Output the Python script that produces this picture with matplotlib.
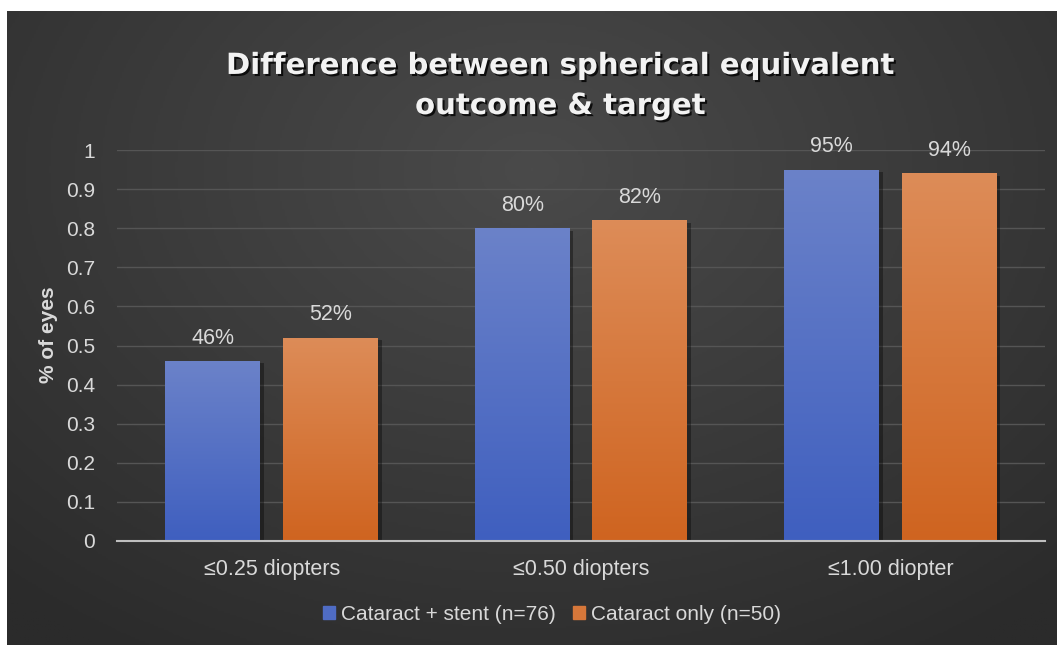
import numpy as np
import matplotlib.pyplot as plt
import matplotlib.patheffects as pe
from matplotlib.patches import Rectangle
from matplotlib.colors import LinearSegmentedColormap

# data
categories = ['≤0.25 diopters', '≤0.50 diopters', '≤1.00 diopter']
stent = [0.46, 0.80, 0.95]
only = [0.52, 0.82, 0.94]
series_names = ['Cataract + stent (n=76)', 'Cataract only (n=50)']
yticks = [0, 0.1, 0.2, 0.3, 0.4, 0.5, 0.6, 0.7, 0.8, 0.9, 1]

W, H = 1057, 645
fig = plt.figure(figsize=(W / 100, H / 100), dpi=100)
fig.patch.set_facecolor('white')
plt.rcParams['font.family'] = ['Liberation Sans', 'DejaVu Sans']

# dark radial background
bg = fig.add_axes([7 / W, 0, 1 - 7 / W, 1 - 11 / H])
bg.set_axis_off()
yy, xx = np.mgrid[0:1:300j, 0:1:500j]
r = np.sqrt(((xx - 0.5) * 1.2) ** 2 + (yy - 0.75) ** 2)
bg_cmap = LinearSegmentedColormap.from_list('bg', ['#4a4a4a', '#2b2b2b'])
bg.imshow(r, cmap=bg_cmap, aspect='auto', extent=[0, 1, 0, 1], origin='lower',
          vmin=0, vmax=0.9)
bg.set_xlim(0, 1)
bg.set_ylim(0, 1)

ax = fig.add_axes([117 / W, (H - 541) / H, (1045 - 117) / W, (541 - 150) / H])
ax.patch.set_alpha(0)

x = np.arange(len(categories))
width = 0.307
off = 0.19

blue_cmap = LinearSegmentedColormap.from_list('b', ['#3f5fbf', '#6b82c9'])
orange_cmap = LinearSegmentedColormap.from_list('o', ['#cf6420', '#dd8c58'])


def gradient_bars(xs, vals, cmap):
    bars = ax.bar(xs, vals, width, color='none', edgecolor='none', zorder=3)
    grad = np.linspace(0, 1, 256).reshape(-1, 1)
    for b in bars:
        bx, by = b.get_x(), b.get_y()
        bw, bh = b.get_width(), b.get_height()
        # soft shadow to the right
        ax.add_patch(Rectangle((bx + 0.012, by), bw, bh - 0.006, color='black',
                               alpha=0.35, zorder=2, lw=0))
        im = ax.imshow(grad, cmap=cmap, aspect='auto', origin='lower',
                       extent=[bx, bx + bw, by, by + bh], zorder=3)
        im.set_clip_path(b)
    return bars


gradient_bars(x - off, stent, blue_cmap)
gradient_bars(x + off, only, orange_cmap)

for xs, vals in [(x - off, stent), (x + off, only)]:
    for xi, v in zip(xs, vals):
        ax.annotate(f'{round(v * 100)}%', (xi, v), xytext=(0, 9),
                    textcoords='offset points', ha='center', va='bottom',
                    fontsize=15.5, color='#d9d9d9', annotation_clip=False)

ax.set_xlim(-0.5, len(categories) - 0.5)
ax.set_ylim(0, 1)
ax.set_yticks(yticks)
ax.set_yticklabels([f'{t:g}' for t in yticks])
ax.set_xticks(x)
ax.set_xticklabels(categories)
ax.tick_params(axis='y', length=0, labelsize=15, colors='#d9d9d9', pad=16)
ax.tick_params(axis='x', length=0, labelsize=15.5, colors='#d9d9d9', pad=13)
ax.grid(axis='y', color='#555555', lw=1, zorder=0)
ax.set_axisbelow(True)
for s in ['top', 'right', 'left']:
    ax.spines[s].set_visible(False)
ax.spines['bottom'].set_color('#bfbfbf')
ax.spines['bottom'].set_linewidth(1.5)
ax.spines['bottom'].set_zorder(4)

ax.set_ylabel('% of eyes', fontsize=15, fontweight='bold', color='#d9d9d9')
ax.yaxis.set_label_coords(-0.064, 0.527)

fig.text(560 / W, (H - 86) / H,
         'Difference between spherical equivalent\noutcome & target',
         ha='center', va='center', fontsize=21, fontweight='bold',
         family='DejaVu Sans', color='#f2f2f2', linespacing=1.55,
         path_effects=[pe.withSimplePatchShadow(offset=(1.5, -1.5),
                                                shadow_rgbFace='black', alpha=0.8)])

handles = [Rectangle((0, 0), 1, 1, color='#4f6cc4'),
           Rectangle((0, 0), 1, 1, color='#d6773a')]
fig.legend(handles, series_names, loc='center', bbox_to_anchor=(552 / W, (H - 614) / H),
           ncol=2, frameon=False, fontsize=15, labelcolor='#d9d9d9',
           handlelength=0.6, handleheight=0.6, handletextpad=0.3, columnspacing=0.8)

fig.savefig('out.png', dpi=100, facecolor=fig.get_facecolor())
